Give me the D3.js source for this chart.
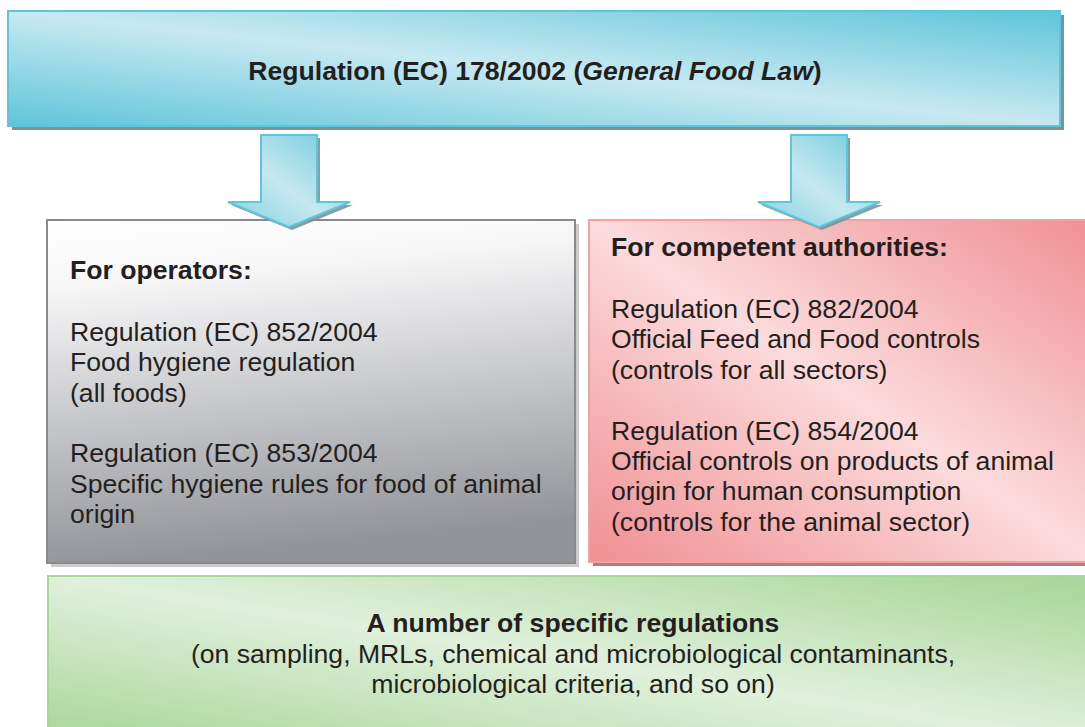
<!DOCTYPE html>
<html>
<head>
<meta charset="utf-8">
<script src="https://cdn.jsdelivr.net/npm/d3@7"></script>
<style>
html,body{margin:0;padding:0;background:#fff;overflow:hidden;}
svg{display:block;font-family:"Liberation Sans",Arial,sans-serif;}
</style>
</head>
<body>
<svg id="chart" width="1085" height="727"></svg>
<script>
// ---- content ----
const titleParts = [
  {text: "Regulation (EC) 178/2002 (", italic: false},
  {text: "General Food Law", italic: true},
  {text: ")", italic: false}
];
const operatorsHeading = "For operators:";
const operatorsLines = [
  "Regulation (EC) 852/2004",
  "Food hygiene regulation",
  "(all foods)",
  "",
  "Regulation (EC) 853/2004",
  "Specific hygiene rules for food of animal",
  "origin"
];
const authoritiesHeading = "For competent authorities:";
const authoritiesLines = [
  "Regulation (EC) 882/2004",
  "Official Feed and Food controls",
  "(controls for all sectors)",
  "",
  "Regulation (EC) 854/2004",
  "Official controls on products of animal",
  "origin for human consumption",
  "(controls for the animal sector)"
];
const specificHeading = "A number of specific regulations";
const specificLines = [
  "(on sampling, MRLs, chemical and microbiological contaminants,",
  "microbiological criteria, and so on)"
];
const arrowTargets = ["operators", "authorities"];

// ---- drawing ----
const svg = d3.select("#chart");
const defs = svg.append("defs");

function diagGrad(id, dark, light) {
  const g = defs.append("linearGradient").attr("id", id)
    .attr("x1", 0).attr("y1", 1).attr("x2", 1).attr("y2", 0);
  g.append("stop").attr("offset", "0%").attr("stop-color", dark);
  g.append("stop").attr("offset", "50%").attr("stop-color", light);
  g.append("stop").attr("offset", "100%").attr("stop-color", dark);
}
diagGrad("gBlue", "#5fc5da", "#c8e9f1");
diagGrad("gPink", "#f08f92", "#fbdbdc");
diagGrad("gGreen", "#a6d596", "#e0f0dc");
const ga = defs.append("linearGradient").attr("id", "gArrow")
  .attr("x1", 0).attr("y1", 1).attr("x2", 1).attr("y2", 0);
ga.append("stop").attr("offset", "0%").attr("stop-color", "#7fd0e1");
ga.append("stop").attr("offset", "45%").attr("stop-color", "#c6e8f0");
ga.append("stop").attr("offset", "100%").attr("stop-color", "#6cc9dc");
const gg = defs.append("linearGradient").attr("id", "gGray")
  .attr("x1", 0).attr("y1", 0).attr("x2", 0.15).attr("y2", 1);
gg.append("stop").attr("offset", "0%").attr("stop-color", "#ffffff");
gg.append("stop").attr("offset", "20%").attr("stop-color", "#f6f6f7");
gg.append("stop").attr("offset", "100%").attr("stop-color", "#929499");

const boxes = [
  {id: "top", x: 8, y: 11, w: 1052, h: 115, fill: "url(#gBlue)", stroke: "#5cc7dc", shadow: "#7d9197"},
  {id: "operators", x: 47, y: 220, w: 528, h: 343, fill: "url(#gGray)", stroke: "#8a8a8c", shadow: "#cbcbcd"},
  {id: "authorities", x: 589, y: 220, w: 510, h: 342, fill: "url(#gPink)", stroke: "#f3a1a2", shadow: "#b47c7a"},
  {id: "specific", x: 48, y: 576, w: 1052, h: 170, fill: "url(#gGreen)", stroke: "#a7d896", shadow: null}
];

const gBoxes = svg.append("g");
boxes.forEach(b => {
  if (b.shadow) {
    gBoxes.append("rect").attr("x", b.x + 4).attr("y", b.y + 4)
      .attr("width", b.w).attr("height", b.h).attr("fill", b.shadow);
  }
  gBoxes.append("rect").attr("x", b.x).attr("y", b.y)
    .attr("width", b.w).attr("height", b.h)
    .attr("fill", b.fill).attr("stroke", b.stroke).attr("stroke-width", 2);
});

// arrows
const arrowCenters = {operators: 289, authorities: 819};
function arrowPath(cx) {
  const top = 135, neck = 202, tip = 227, sw = 28, hw = 61;
  return d3.line()([
    [cx - sw, top], [cx + sw, top], [cx + sw, neck], [cx + hw, neck],
    [cx, tip], [cx - hw, neck], [cx - sw, neck]
  ]) + "Z";
}
arrowTargets.forEach(t => {
  const cx = arrowCenters[t];
  svg.append("path").attr("d", arrowPath(cx)).attr("transform", "translate(3,3)")
    .attr("fill", "#7f9196").attr("opacity", 0.9);
  svg.append("path").attr("d", arrowPath(cx))
    .attr("fill", "url(#gArrow)").attr("stroke", "#5cc7dc").attr("stroke-width", 2)
    .attr("stroke-linejoin", "miter");
});

const textColor = "#231f20";
const FS = 26.6;

// title
const title = svg.append("text").attr("x", 535).attr("y", 80)
  .attr("text-anchor", "middle").attr("font-size", FS).attr("font-weight", "bold")
  .attr("fill", textColor);
titleParts.forEach(p => {
  title.append("tspan").text(p.text).attr("font-style", p.italic ? "italic" : "normal");
});

function block(x, headY, heading, lines, firstY, step, anchor) {
  svg.append("text").attr("x", x).attr("y", headY).attr("text-anchor", anchor)
    .attr("font-size", FS).attr("font-weight", "bold").attr("fill", textColor).text(heading);
  svg.append("g").selectAll("text").data(lines).join("text")
    .attr("x", x).attr("y", (d, i) => firstY + i * step)
    .attr("text-anchor", anchor)
    .attr("font-size", FS).attr("fill", textColor).text(d => d);
}
block(70, 279, operatorsHeading, operatorsLines, 341, 30.3, "start");
block(611, 256, authoritiesHeading, authoritiesLines, 318, 30.4, "start");
block(573, 632, specificHeading, specificLines, 663, 30, "middle");
</script>
</body>
</html>
